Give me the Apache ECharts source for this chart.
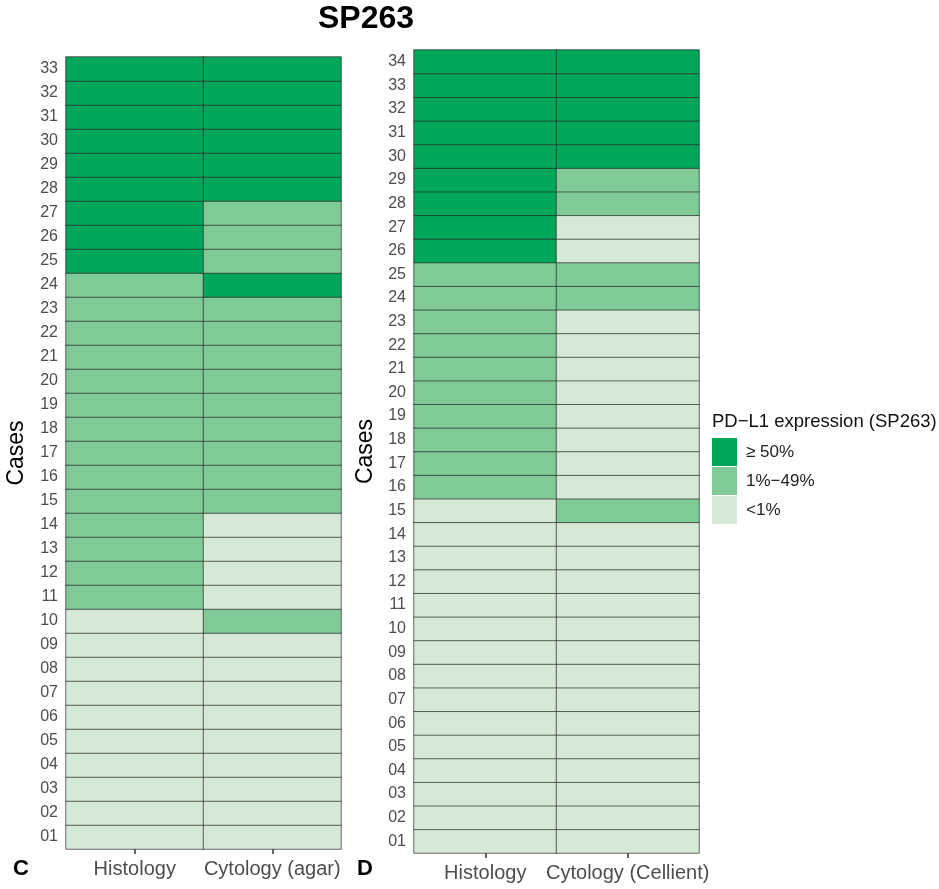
<!DOCTYPE html>
<html lang="en">
<head>
    <meta charset="UTF-8">
    <title>SP263</title>
    <script src="https://cdn.jsdelivr.net/npm/echarts@6.0.0/dist/echarts.min.js"></script>
    <style>
        body, html { margin: 0; padding: 0; width: 100%; height: 100%; background: #fff; }
        #main { width: 939px; height: 889px; }
    </style>
</head>
<body>
    <div id="main"></div>
    <script>
        // case labels, bottom to top
        var casesC = ['01','02','03','04','05','06','07','08','09','10','11','12','13','14','15','16','17',
                      '18','19','20','21','22','23','24','25','26','27','28','29','30','31','32','33'];
        var casesD = ['01','02','03','04','05','06','07','08','09','10','11','12','13','14','15','16','17',
                      '18','19','20','21','22','23','24','25','26','27','28','29','30','31','32','33','34'];
        var methodsC = ['Histology', 'Cytology (agar)'];
        var methodsD = ['Histology', 'Cytology (Cellient)'];
        // 0 = <1%, 1 = 1%-49%, 2 = >=50%
        var histC    = [0,0,0,0,0,0,0,0,0,0,1,1,1,1,1,1,1,1,1,1,1,1,1,1,2,2,2,2,2,2,2,2,2];
        var agarC    = [0,0,0,0,0,0,0,0,0,1,0,0,0,0,1,1,1,1,1,1,1,1,1,2,1,1,1,2,2,2,2,2,2];
        var histD    = [0,0,0,0,0,0,0,0,0,0,0,0,0,0,0,1,1,1,1,1,1,1,1,1,1,2,2,2,2,2,2,2,2,2];
        var cellD    = [0,0,0,0,0,0,0,0,0,0,0,0,0,0,1,0,0,0,0,0,0,0,0,1,1,0,0,1,1,2,2,2,2,2];
        var levelLabels = ['<1%', '1%\u221249%', '\u2265 50%'];
        var levelColors = ['#D6E9D7', '#7FCA97', '#00A65A'];

        function toCells(cols) {
            var out = [];
            cols.forEach(function (col, x) {
                col.forEach(function (v, y) { out.push([x, y, v]); });
            });
            return out;
        }

        var xAxisStyle = {
            axisLine: { show: false },
            axisTick: { show: true, alignWithLabel: true, length: 5, lineStyle: { color: '#333', width: 1.5 } },
            axisLabel: { interval: 0, color: '#4d4d4d', fontSize: 20, margin: 10, fontFamily: 'Liberation Sans' },
            splitArea: { show: false }
        };
        var yAxisStyle = {
            axisLine: { show: false },
            axisTick: { show: false },
            axisLabel: { interval: 0, color: '#4d4d4d', fontSize: 16, margin: 8, fontFamily: 'Liberation Sans' },
            name: 'Cases',
            nameLocation: 'middle',
            nameRotate: 90,
            nameTextStyle: { color: '#000', fontSize: 23, fontFamily: 'Liberation Sans' }
        };

        var chart = echarts.init(document.getElementById('main'));
        chart.setOption({
            backgroundColor: '#fff',
            animation: false,
            title: {
                text: 'SP263',
                left: 361, top: -2, textAlign: 'center',
                textStyle: { fontSize: 32, fontWeight: 'bold', color: '#000', fontFamily: 'Liberation Sans' }
            },
            grid: [
                { left: 66, top: 57, width: 275, height: 792 },
                { left: 414, top: 50, width: 285, height: 803 }
            ],
            xAxis: [
                Object.assign({ type: 'category', gridIndex: 0, data: methodsC }, xAxisStyle),
                Object.assign({ type: 'category', gridIndex: 1, data: methodsD }, xAxisStyle)
            ],
            yAxis: [
                Object.assign({ type: 'category', gridIndex: 0, data: casesC, nameGap: 38 }, yAxisStyle),
                Object.assign({ type: 'category', gridIndex: 1, data: casesD, nameGap: 37 }, yAxisStyle)
            ],
            visualMap: {
                type: 'piecewise',
                seriesIndex: [0, 1],
                orient: 'vertical',
                left: 712, top: 438,
                padding: 0,
                itemWidth: 25, itemHeight: 28, itemGap: 1,
                itemSymbol: 'rect',
                showLabel: true,
                align: 'left',
                textGap: 9,
                textStyle: { color: '#222', fontSize: 17, fontFamily: 'Liberation Sans' },
                selectedMode: false,
                pieces: [
                    { value: 0, label: levelLabels[0], color: levelColors[0] },
                    { value: 1, label: levelLabels[1], color: levelColors[1] },
                    { value: 2, label: levelLabels[2], color: levelColors[2] }
                ]
            },
            graphic: [
                { type: 'text', left: 712, top: 412, style: { text: 'PD\u2212L1 expression (SP263)', font: '18.5px "Liberation Sans"', fill: '#111' } },
                { type: 'text', left: 13, top: 858, style: { text: 'C', font: 'bold 22px "Liberation Sans"', fill: '#000' } },
                { type: 'text', left: 357, top: 858, style: { text: 'D', font: 'bold 22px "Liberation Sans"', fill: '#000' } }
            ],
            series: [
                {
                    type: 'heatmap', xAxisIndex: 0, yAxisIndex: 0,
                    data: toCells([histC, agarC]),
                    itemStyle: { borderColor: '#2b2b2b', borderWidth: 0.7 }
                },
                {
                    type: 'heatmap', xAxisIndex: 1, yAxisIndex: 1,
                    data: toCells([histD, cellD]),
                    itemStyle: { borderColor: '#2b2b2b', borderWidth: 0.7 }
                }
            ]
        });
    </script>
</body>
</html>
